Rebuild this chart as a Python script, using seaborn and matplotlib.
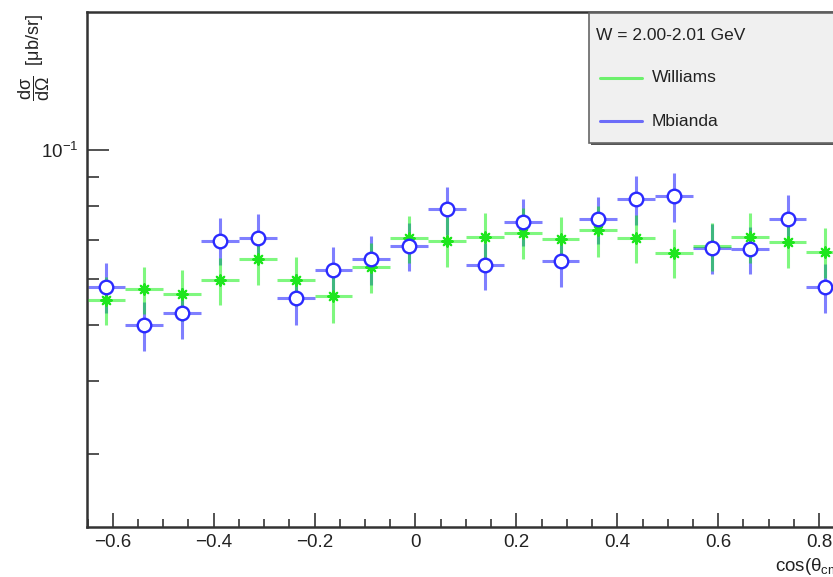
import numpy as np
import pandas as pd
import matplotlib
matplotlib.use("Agg")
import matplotlib.pyplot as plt
from matplotlib.patches import Rectangle
from matplotlib.lines import Line2D
import seaborn as sns

# cos(theta_cm) bin centres and half-widths
cos_theta = [-0.6125, -0.5375, -0.4625, -0.3875, -0.3125, -0.2375, -0.1625, -0.0875,
             -0.0125, 0.0625, 0.1375, 0.2125, 0.2875, 0.3625, 0.4375, 0.5125,
             0.5875, 0.6625, 0.7375, 0.8125]
bin_half_width = 0.0375

# dsigma/dOmega [ub/sr], W = 2.00-2.01 GeV
williams = [0.0552, 0.0576, 0.0565, 0.0597, 0.0650, 0.0597, 0.0561, 0.0630, 0.0705, 0.0698,
            0.0709, 0.0721, 0.0702, 0.0728, 0.0706, 0.0666, 0.0684, 0.0709, 0.0694, 0.0668]
williams_err = [0.0052, 0.0054, 0.0057, 0.0056, 0.0064, 0.0058, 0.0058, 0.0062, 0.0065, 0.0070,
                0.0069, 0.0073, 0.0064, 0.0073, 0.0068, 0.0065, 0.0066, 0.0069, 0.0068, 0.0065]
mbianda = [0.0582, 0.0499, 0.0525, 0.0698, 0.0706, 0.0556, 0.0622, 0.0648, 0.0684, 0.0790,
           0.0633, 0.0753, 0.0645, 0.0760, 0.0823, 0.0833, 0.0679, 0.0675, 0.0760, 0.0580]
mbianda_err = [0.0058, 0.0049, 0.0053, 0.0065, 0.0069, 0.0056, 0.0058, 0.0063, 0.0065, 0.0075,
               0.0060, 0.0070, 0.0063, 0.0071, 0.0080, 0.0080, 0.0067, 0.0063, 0.0077, 0.0056]

series_labels = ["Williams", "Mbianda"]
header = "W = 2.00-2.01 GeV"
x_ticks = [-0.6, -0.4, -0.2, 0.0, 0.2, 0.4, 0.6, 0.8]
x_tick_labels = ["\u22120.6", "\u22120.4", "\u22120.2", "0", "0.2", "0.4", "0.6", "0.8"]

sns.set_theme(style="white")
plt.rcParams["font.family"] = ["Liberation Sans", "DejaVu Sans"]
plt.rcParams["mathtext.fontset"] = "custom"
plt.rcParams["mathtext.rm"] = "Liberation Sans"
plt.rcParams["mathtext.it"] = "Liberation Sans"
plt.rcParams["mathtext.bf"] = "Liberation Sans:bold"

W, H = 833, 577
fig = plt.figure(figsize=(W / 100, H / 100), dpi=100)
ax_left, ax_bottom, ax_top = 87, 527, 12
ax = fig.add_axes([ax_left / W, 1 - ax_bottom / H, 833 / W, (ax_bottom - ax_top) / H])

green_line = "#00f000"
green_mark = "#1ee61e"
blue_line = "#0000ff"
blue_mark = "#2a2aff"

df = pd.DataFrame({
    "cos": cos_theta * 2,
    "xs": williams + mbianda,
    "err": williams_err + mbianda_err,
    "set": [series_labels[0]] * len(cos_theta) + [series_labels[1]] * len(cos_theta),
})
dw = df[df["set"] == series_labels[0]]
dm = df[df["set"] == series_labels[1]]

# error bars (bin width horizontally, statistical error vertically)
ax.errorbar(dm["cos"], dm["xs"], xerr=bin_half_width, yerr=dm["err"], fmt="none",
            ecolor=blue_line, alpha=0.5, elinewidth=2.2, capsize=0, zorder=2)
ax.errorbar(dw["cos"], dw["xs"], xerr=bin_half_width, yerr=dw["err"], fmt="none",
            ecolor=green_line, alpha=0.5, elinewidth=2.2, capsize=0, zorder=3)

# markers
sns.scatterplot(data=dw, x="cos", y="xs", ax=ax, marker=(8, 2, 0), s=55,
                color=green_mark, edgecolor=green_mark, linewidth=1.6, zorder=4, legend=False)
sns.scatterplot(data=dm, x="cos", y="xs", ax=ax, marker="o", s=95,
                facecolor="white", edgecolor=blue_mark, linewidth=1.7, zorder=5, legend=False)

ax.set_yscale("log")
ax.set_xlim(-0.651, 1.0)
ax.set_ylim(0.02244, 0.1728)
ax.set_xlabel("")
ax.set_ylabel("")

ax.set_xticks(x_ticks)
ax.set_xticklabels(x_tick_labels)
ax.set_xticks(np.arange(-0.65, 1.0, 0.05), minor=True)
ax.set_yticks([0.1])
ax.set_yticklabels([r"$10^{-1}$"])
ax.set_yticks([0.03, 0.04, 0.05, 0.06, 0.07, 0.08, 0.09], minor=True)
ax.yaxis.set_minor_formatter(matplotlib.ticker.NullFormatter())

ax.tick_params(axis="x", which="major", direction="in", length=10, width=1.3,
               color="#444444", labelsize=13.5, pad=5, labelcolor="#222222",
               bottom=True, top=False)
ax.tick_params(axis="x", which="minor", direction="in", length=5.5, width=1.3,
               color="#444444", bottom=True, top=False)
ax.tick_params(axis="y", which="major", direction="in", length=16, width=1.3,
               color="#444444", labelsize=13.5, pad=6, labelcolor="#222222",
               left=True, right=False)
ax.tick_params(axis="y", which="minor", direction="in", length=8.5, width=1.3,
               color="#444444", left=True, right=False)

for side in ["left", "bottom", "top"]:
    ax.spines[side].set_visible(True)
    ax.spines[side].set_color("#333333")
    ax.spines[side].set_linewidth(1.8)
ax.spines["right"].set_visible(False)

# axis titles
fig.text(34 / W, 1 - 14 / H, r"$\dfrac{\mathrm{d}\sigma}{\mathrm{d}\Omega}$  [$\mu$b/sr]",
         rotation=90, ha="center", va="top", fontsize=13, color="#222222")
fig.text(775 / W, 1 - 571 / H, r"cos($\theta_{\mathrm{cm}}$)",
         ha="left", va="baseline", fontsize=13.5, color="#222222")

# legend box
lx0, ly0, lx1, ly1 = 589, 13, 900, 143
fig.patches.append(Rectangle(((lx0 + 2) / W, 1 - (ly1 + 2) / H), (lx1 - lx0) / W, (ly1 - ly0) / H,
                             transform=fig.transFigure, facecolor="#555555",
                             edgecolor="none", zorder=9))
fig.patches.append(Rectangle((lx0 / W, 1 - ly1 / H), (lx1 - lx0) / W, (ly1 - ly0) / H,
                             transform=fig.transFigure, facecolor="#f0f0f0",
                             edgecolor="#666666", linewidth=1.2, zorder=10))
fig.text(596 / W, 1 - 35 / H, header, ha="left", va="center", fontsize=12.5,
         color="#222222", zorder=11)
for yy, col, lab in [(78, green_line, series_labels[0]), (121, blue_line, series_labels[1])]:
    fig.lines.append(Line2D([600 / W, 642 / W], [1 - yy / H, 1 - yy / H],
                            transform=fig.transFigure, color=col, alpha=0.55,
                            linewidth=2.2, zorder=11))
    fig.text(652 / W, 1 - yy / H, lab, ha="left", va="center", fontsize=12.5,
             color="#222222", zorder=11)

fig.savefig("out.png", dpi=100)
